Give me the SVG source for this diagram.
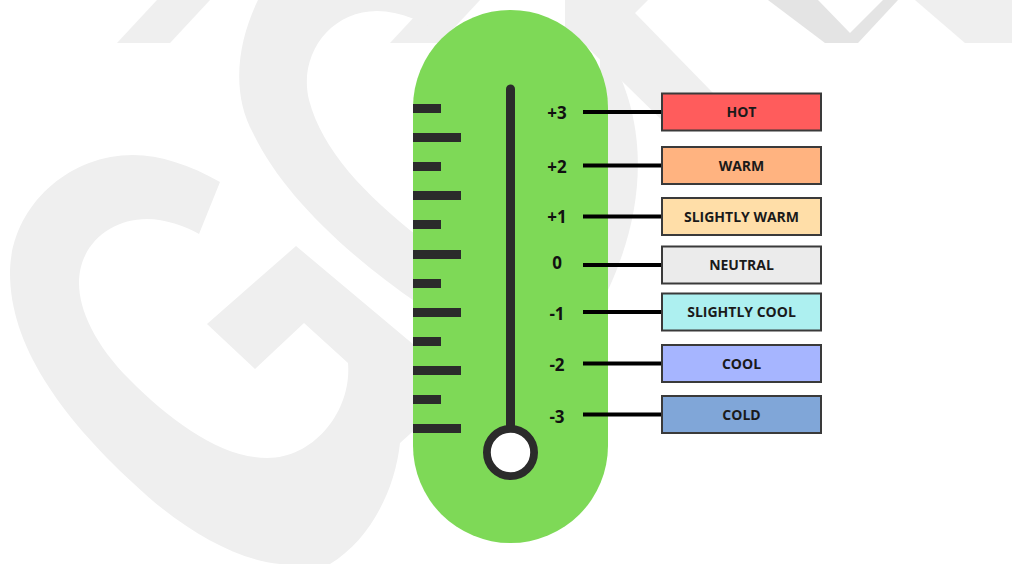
<svg xmlns="http://www.w3.org/2000/svg" width="1012" height="564" viewBox="0 0 1012 564">
  <style>
    .wm { fill: #efefef; }
    .wm2 { fill: #e4e4e4; }
    .tick { fill: #2b2b2b; }
    .lbl { font-family: "Open Sans", "Liberation Sans", sans-serif; font-weight: 700; font-size: 17px; fill: #111; text-anchor: middle; }
    .box rect { stroke: #3a3a3a; stroke-width: 2; }
    .box text { font-family: "Open Sans", "Liberation Sans", sans-serif; font-weight: 700; font-size: 14px; fill: #1a1a1a; text-anchor: middle; }
    .conn line { stroke: #000; stroke-width: 4; }
  </style>
  <rect width="1012" height="564" fill="#ffffff"/>
  <g id="watermark">
    <polygon class="wm" points="117,43 170,43 210,0 157,0"/>
    <polygon class="wm2" points="252,43 302,43 347,0 297,0"/>
    <polygon class="wm" points="390,43 440,43 480,0 430,0"/>
    <path class="wm" d="M 220,182 C 190,165 160,155 133,155 C 65,155 10,210 10,273 C 10,345 60,415 133,483 C 180,528 235,560 280,564 L 330,564 C 370,540 395,490 400,443 L 420,425 L 420,350 L 296,246 L 207,324 L 255,369 L 304,323 L 348,363 C 352,410 315,458 267,458 C 220,458 170,420 130,380 C 95,345 79,310 79,283 C 79,245 110,219 147,219 C 165,219 185,226 199,234 Z"/>
    <path class="wm" d="M 258,0 C 236,45 232,95 253,133 C 280,190 340,250 420,305 L 420,238 C 365,195 322,150 309,100 C 298,55 330,11 377,11 C 400,11 425,22 450,38 L 460,0 Z"/>
    <polygon class="wm" points="565,0 648,0 635,13 713,93 720,128 670,128 583,43 565,35"/>
    <path class="wm" d="M 600,40 C 648,110 650,200 608,290 L 600,290 Z"/>
    <polygon class="wm2" points="768,0 818,0 850,33 883,0 898,0 858,43 825,43"/>
    <polygon class="wm" points="915,0 1012,0 1012,43 965,43"/>
  </g>
  <g id="thermometer">
    <rect x="413" y="10" width="195" height="533" rx="97.5" ry="97.5" fill="#7ed957"/>
    <g id="ticks">
      <rect class="tick" x="413" y="104" width="28" height="9"/>
      <rect class="tick" x="413" y="133" width="48" height="9"/>
      <rect class="tick" x="413" y="162" width="28" height="9"/>
      <rect class="tick" x="413" y="191" width="48" height="9"/>
      <rect class="tick" x="413" y="220" width="28" height="9"/>
      <rect class="tick" x="413" y="250" width="48" height="9"/>
      <rect class="tick" x="413" y="279" width="28" height="9"/>
      <rect class="tick" x="413" y="308" width="48" height="9"/>
      <rect class="tick" x="413" y="337" width="28" height="9"/>
      <rect class="tick" x="413" y="366" width="48" height="9"/>
      <rect class="tick" x="413" y="395" width="28" height="9"/>
      <rect class="tick" x="413" y="424" width="48" height="9"/>
    </g>
    <line x1="510.5" y1="89" x2="510.5" y2="430" stroke="#2b2b2b" stroke-width="9" stroke-linecap="round"/>
    <circle cx="510.5" cy="452.5" r="23.6" fill="#ffffff" stroke="#2b2b2b" stroke-width="7.8"/>
  </g>
  <g id="scale-labels">
    <text class="lbl" x="557" y="119">+3</text>
    <text class="lbl" x="557" y="172.5">+2</text>
    <text class="lbl" x="557" y="223">+1</text>
    <text class="lbl" x="557" y="269">0</text>
    <text class="lbl" x="557" y="320">-1</text>
    <text class="lbl" x="557" y="371">-2</text>
    <text class="lbl" x="557" y="422.5">-3</text>
  </g>
  <g id="connectors" class="conn">
    <line x1="583" y1="112" x2="662" y2="112"/>
    <line x1="583" y1="165.5" x2="662" y2="165.5"/>
    <line x1="583" y1="216.5" x2="662" y2="216.5"/>
    <line x1="583" y1="265" x2="662" y2="265"/>
    <line x1="583" y1="312" x2="662" y2="312"/>
    <line x1="583" y1="363.5" x2="662" y2="363.5"/>
    <line x1="583" y1="414.5" x2="662" y2="414.5"/>
  </g>
  <g id="hot" class="box">
    <rect x="662" y="93.5" width="159" height="37" fill="#ff5c5c"/>
    <text x="741.5" y="117">HOT</text>
  </g>
  <g id="warm" class="box">
    <rect x="662" y="147" width="159" height="37" fill="#ffb380"/>
    <text x="741.5" y="170.5">WARM</text>
  </g>
  <g id="slightly-warm" class="box">
    <rect x="662" y="198" width="159" height="37" fill="#ffdea8"/>
    <text x="741.5" y="221.5">SLIGHTLY WARM</text>
  </g>
  <g id="neutral" class="box">
    <rect x="662" y="246.5" width="159" height="37" fill="#ebebeb"/>
    <text x="741.5" y="270">NEUTRAL</text>
  </g>
  <g id="slightly-cool" class="box">
    <rect x="662" y="293.5" width="159" height="37" fill="#adf0f0"/>
    <text x="741.5" y="317">SLIGHTLY COOL</text>
  </g>
  <g id="cool" class="box">
    <rect x="662" y="345" width="159" height="37" fill="#a6b5ff"/>
    <text x="741.5" y="368.5">COOL</text>
  </g>
  <g id="cold" class="box">
    <rect x="662" y="396" width="159" height="37" fill="#80a6d8"/>
    <text x="741.5" y="419.5">COLD</text>
  </g>
</svg>
